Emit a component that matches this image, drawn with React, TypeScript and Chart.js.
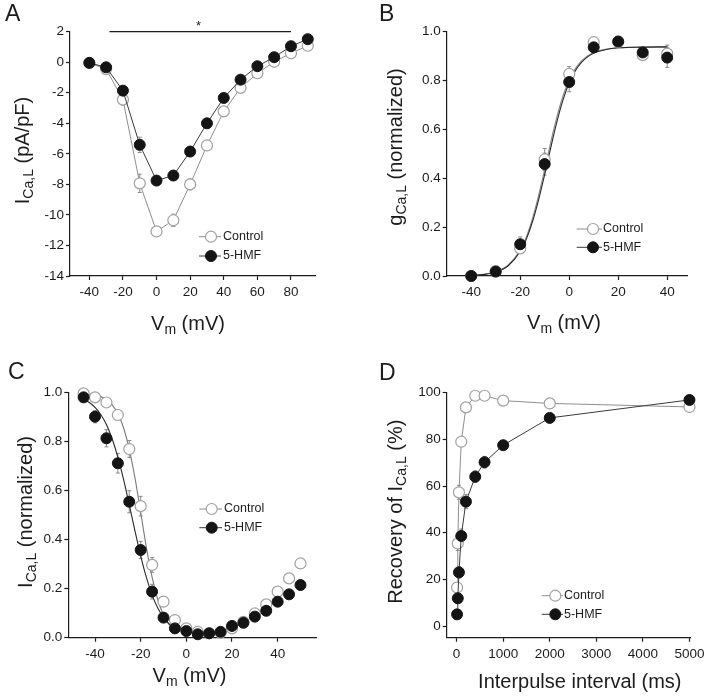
import React, { useEffect, useRef } from 'react';
import { Chart, registerables } from 'chart.js';

Chart.register(...registerables);

const FONT = '"Liberation Sans", Arial, Helvetica, sans-serif';
const INK = '#1c1c1c';
const OPEN_STROKE = '#a0a0a0';
const OPEN_LINE = '#8e8e8e';
const FILLED = '#141414';
const FILLED_LINE = '#3a3a3a';
const ERR = '#8a8a8a';

// ---------------- Panel A : I-V relationship ----------------
const vmA = [-40, -30, -20, -10, 0, 10, 20, 30, 40, 50, 60, 70, 80, 90];
const controlA = [-0.05, -0.45, -2.45, -7.93, -11.08, -10.35, -8.0, -5.45, -3.22, -1.68, -0.72, 0.03, 0.59, 1.08];
const hmfA = [-0.04, -0.33, -1.86, -5.41, -7.75, -7.42, -5.85, -4.0, -2.34, -1.14, -0.26, 0.33, 1.05, 1.51];
const controlErrA = [0.1, 0.2, 0.35, 0.6, 0.3, 0.4, 0.35, 0.3, 0.25, 0.2, 0.15, 0.1, 0.1, 0.1];
const hmfErrA = [0.1, 0.15, 0.3, 0.5, 0.3, 0.3, 0.3, 0.25, 0.2, 0.15, 0.1, 0.1, 0.1, 0.1];
const sigBarXA = [-28, 80];
const sigBarYA = 2;
const sigStarXA = 25;
const xTicksA = [-40, -20, 0, 20, 40, 60, 80];
const yTicksA = [2, 0, -2, -4, -6, -8, -10, -12, -14];

// ---------------- Panel B : activation ----------------
const vmB = [-40, -30, -20, -10, 0, 10, 20, 30, 40];
const controlB = [0.0, 0.02, 0.113, 0.477, 0.827, 0.957, 0.958, 0.904, 0.91];
const hmfB = [0.0, 0.018, 0.13, 0.458, 0.794, 0.936, 0.96, 0.915, 0.894];
const controlErrB = [0, 0.005, 0.02, 0.045, 0.03, 0.02, 0.01, 0.02, 0.035];
const hmfErrB = [0, 0.005, 0.03, 0.045, 0.04, 0.02, 0.01, 0.02, 0.04];
const fitVmB = [-40, -35, -30, -25, -20, -17.5, -15, -12.5, -10, -7.5, -5, -2.5, 0, 2.5, 5, 7.5, 10, 15, 20, 30, 40];
const fitControlB = [0.003, 0.007, 0.017, 0.044, 0.106, 0.16, 0.235, 0.329, 0.437, 0.549, 0.652, 0.738, 0.803, 0.849, 0.881, 0.901, 0.915, 0.928, 0.934, 0.937, 0.937];
const fitHmfB = [0.002, 0.006, 0.016, 0.041, 0.1, 0.151, 0.222, 0.312, 0.416, 0.527, 0.632, 0.722, 0.791, 0.84, 0.874, 0.897, 0.912, 0.927, 0.934, 0.937, 0.938];
const xTicksB = [-40, -20, 0, 20, 40];
const yTicksB = [0, 0.2, 0.4, 0.6, 0.8, 1.0];

// ---------------- Panel C : inactivation ----------------
const vmC = [-45, -40, -35, -30, -25, -20, -15, -10, -5, 0, 5, 10, 15, 20, 25, 30, 35, 40, 45, 50];
const controlC = [0.997, 0.981, 0.96, 0.909, 0.77, 0.537, 0.297, 0.147, 0.072, 0.038, 0.024, 0.018, 0.02, 0.038, 0.065, 0.099, 0.136, 0.188, 0.242, 0.303];
const hmfC = [0.981, 0.902, 0.814, 0.712, 0.555, 0.358, 0.188, 0.082, 0.038, 0.027, 0.014, 0.018, 0.024, 0.048, 0.061, 0.086, 0.11, 0.147, 0.177, 0.215];
const controlErrC = [0.005, 0.01, 0.015, 0.02, 0.035, 0.04, 0.03, 0.015, 0.01, 0.005, 0.005, 0.005, 0.005, 0.005, 0.005, 0.005, 0.005, 0.005, 0.005, 0.005];
const hmfErrC = [0.01, 0.025, 0.035, 0.04, 0.045, 0.035, 0.03, 0.015, 0.01, 0.005, 0.005, 0.005, 0.005, 0.005, 0.005, 0.005, 0.005, 0.005, 0.005, 0.005];
const fitVmC = [-45, -42.5, -40, -37.5, -35, -32.5, -30, -27.5, -25, -22.5, -20, -17.5, -15, -12.5, -10, -8, -6];
const fitControlC = [0.997, 0.995, 0.991, 0.984, 0.972, 0.95, 0.915, 0.857, 0.77, 0.652, 0.512, 0.369, 0.247, 0.155, 0.093, 0.061, 0.039];
const fitHmfC = [0.974, 0.96, 0.94, 0.911, 0.87, 0.812, 0.737, 0.646, 0.543, 0.436, 0.334, 0.246, 0.175, 0.121, 0.082, 0.06, 0.043];
const xTicksC = [-40, -20, 0, 20, 40];
const yTicksC = [0, 0.2, 0.4, 0.6, 0.8, 1.0];

// ---------------- Panel D : recovery ----------------
const intervalD = [10, 25, 50, 100, 200, 400, 600, 1000, 2000, 5000];
const controlD = [16.5, 35.4, 57.3, 79.0, 93.7, 98.7, 98.7, 96.6, 95.4, 93.9];
const hmfD = [5.0, 11.9, 23.0, 38.6, 53.3, 64.0, 70.2, 77.5, 89.2, 96.9];
const controlErrD = [2, 3, 3, 2, 1, 0.8, 0.8, 0.8, 1, 1];
const hmfErrD = [1, 1.5, 2.5, 3, 3, 2.5, 2.5, 1.5, 1, 1];
const xTicksD = [0, 1000, 2000, 3000, 4000, 5000];
const yTicksD = [0, 20, 40, 60, 80, 100];

const legendLabels = ['Control', '5-HMF'];

type Part = { t: string; sub?: boolean };

const pts = (xs: number[], ys: number[]) => xs.map((x, i) => ({ x, y: ys[i] }));

function openSeries(xs: number[], ys: number[], errs: number[], showLine: boolean) {
  return {
    label: legendLabels[0],
    data: pts(xs, ys),
    showLine,
    borderColor: OPEN_LINE,
    borderWidth: 1,
    pointRadius: 5.5,
    pointHoverRadius: 5.5,
    pointBackgroundColor: '#ffffff',
    pointBorderColor: OPEN_STROKE,
    pointBorderWidth: 1.2,
    clip: false,
    errorBars: errs,
    order: 2,
  };
}

function filledSeries(xs: number[], ys: number[], errs: number[], showLine: boolean) {
  return {
    label: legendLabels[1],
    data: pts(xs, ys),
    showLine,
    borderColor: FILLED_LINE,
    borderWidth: 1,
    pointRadius: 5.5,
    pointHoverRadius: 5.5,
    pointBackgroundColor: FILLED,
    pointBorderColor: FILLED,
    pointBorderWidth: 1,
    clip: false,
    errorBars: errs,
    order: 1,
  };
}

function fitSeries(xs: number[], ys: number[], color: string, order: number) {
  return {
    data: pts(xs, ys),
    showLine: true,
    borderColor: color,
    borderWidth: 1.1,
    pointRadius: 0,
    pointHoverRadius: 0,
    cubicInterpolationMode: 'monotone',
    clip: false,
    order,
  };
}

function axis(min: number, max: number, ticks: number[], fmt: (v: number) => string, fitSize: number, isX: boolean) {
  return {
    type: 'linear',
    min,
    max,
    afterBuildTicks: (s: any) => {
      s.ticks = ticks.map((v) => ({ value: v }));
    },
    afterFit: (s: any) => {
      if (isX) s.height = fitSize;
      else s.width = fitSize;
    },
    ticks: {
      font: { family: FONT, size: 13.5 },
      color: INK,
      padding: isX ? 4.5 : 2,
      autoSkip: false,
      maxRotation: 0,
      callback: (v: any) => fmt(Number(v)),
    },
    grid: {
      display: true,
      drawOnChartArea: false,
      drawTicks: true,
      tickLength: 4,
      tickColor: INK,
      tickWidth: 1.2,
      color: INK,
    },
    border: { display: true, color: INK, width: 1.2 },
    title: { display: false },
  };
}

const errorBarPlugin = {
  id: 'errorBars',
  beforeDatasetsDraw(chart: any) {
    const ctx = chart.ctx;
    const ys = chart.scales.y;
    chart.data.datasets.forEach((ds: any, i: number) => {
      if (!ds.errorBars) return;
      const meta = chart.getDatasetMeta(i);
      ctx.save();
      ctx.strokeStyle = ERR;
      ctx.lineWidth = 1;
      meta.data.forEach((pt: any, j: number) => {
        const e = ds.errorBars[j];
        if (!e) return;
        const v = ds.data[j].y;
        const x = pt.x;
        const y1 = ys.getPixelForValue(v + e);
        const y2 = ys.getPixelForValue(v - e);
        ctx.beginPath();
        ctx.moveTo(x, y1);
        ctx.lineTo(x, y2);
        ctx.moveTo(x - 2, y1);
        ctx.lineTo(x + 2, y1);
        ctx.moveTo(x - 2, y2);
        ctx.lineTo(x + 2, y2);
        ctx.stroke();
      });
      ctx.restore();
    });
  },
};

function drawRich(ctx: CanvasRenderingContext2D, parts: Part[], cx: number, y: number, size: number) {
  const sub = Math.round(size * 0.68);
  const fontFor = (p: Part) => `${p.sub ? sub : size}px ${FONT}`;
  let w = 0;
  for (const p of parts) {
    ctx.font = fontFor(p);
    w += ctx.measureText(p.t).width;
  }
  let x = cx - w / 2;
  ctx.textAlign = 'left';
  ctx.textBaseline = 'alphabetic';
  for (const p of parts) {
    ctx.font = fontFor(p);
    ctx.fillText(p.t, x, y + (p.sub ? 4 : 0));
    x += ctx.measureText(p.t).width;
  }
}

type PanelText = {
  letter: string;
  letterX: number;
  letterY: number;
  xTitle: Part[];
  xTitleCx: number;
  xTitleY: number;
  yTitle: Part[];
  yTitleX: number;
  yTitleCy: number;
  legend: { l1: number; l2: number; cx: number; tx: number; y: number[] };
  star?: { xValue: number; y: number };
};

function textPlugin(cfg: PanelText) {
  return {
    id: 'panelText',
    afterDraw(chart: any) {
      const ctx: CanvasRenderingContext2D = chart.ctx;
      ctx.save();
      ctx.fillStyle = INK;
      ctx.font = `23px ${FONT}`;
      ctx.textAlign = 'left';
      ctx.textBaseline = 'alphabetic';
      ctx.fillText(cfg.letter, cfg.letterX, cfg.letterY);

      drawRich(ctx, cfg.xTitle, cfg.xTitleCx, cfg.xTitleY, 20);

      ctx.save();
      ctx.translate(cfg.yTitleX, cfg.yTitleCy);
      ctx.rotate(-Math.PI / 2);
      drawRich(ctx, cfg.yTitle, 0, 0, 20);
      ctx.restore();

      // legend
      const lg = cfg.legend;
      legendLabels.forEach((label, i) => {
        const y = lg.y[i];
        const open = i === 0;
        ctx.beginPath();
        ctx.strokeStyle = open ? OPEN_LINE : FILLED_LINE;
        ctx.lineWidth = 1;
        ctx.moveTo(lg.l1, y);
        ctx.lineTo(lg.l2, y);
        ctx.stroke();
        ctx.beginPath();
        ctx.arc(lg.cx, y, 5.5, 0, Math.PI * 2);
        ctx.fillStyle = open ? '#ffffff' : FILLED;
        ctx.fill();
        ctx.lineWidth = open ? 1.2 : 1;
        ctx.strokeStyle = open ? OPEN_STROKE : FILLED;
        ctx.stroke();
        ctx.fillStyle = INK;
        ctx.font = `12.5px ${FONT}`;
        ctx.textAlign = 'left';
        ctx.textBaseline = 'middle';
        ctx.fillText(label, lg.tx, y);
      });

      if (cfg.star) {
        const sx = chart.scales.x.getPixelForValue(cfg.star.xValue);
        ctx.fillStyle = INK;
        ctx.font = `13px ${FONT}`;
        ctx.textAlign = 'center';
        ctx.textBaseline = 'alphabetic';
        ctx.fillText('*', sx, cfg.star.y);
      }
      ctx.restore();
    },
  };
}

const fmtInt = (v: number) => String(Math.round(v));
const fmt1 = (v: number) => v.toFixed(1);

const vmTitle: Part[] = [{ t: 'V' }, { t: 'm', sub: true }, { t: ' (mV)' }];

function buildA(): any {
  return {
    type: 'scatter',
    data: {
      datasets: [
        filledSeries(vmA, hmfA, hmfErrA, true),
        openSeries(vmA, controlA, controlErrA, true),
        {
          data: sigBarXA.map((x) => ({ x, y: sigBarYA })),
          showLine: true,
          borderColor: INK,
          borderWidth: 1.2,
          pointRadius: 0,
          clip: false,
          order: 5,
        },
      ],
    },
    options: {
      responsive: false,
      animation: false,
      layout: { padding: { left: 0, right: 39, top: 31.7, bottom: 0 }, autoPadding: false },
      plugins: { legend: { display: false }, tooltip: { enabled: false } },
      scales: {
        x: axis(-51.5, 94.3, xTicksA, fmtInt, 69, true),
        y: axis(-14, 2, yTicksA, fmtInt, 70, false),
      },
    },
    plugins: [
      errorBarPlugin,
      textPlugin({
        letter: 'A',
        letterX: 5,
        letterY: 21,
        xTitle: vmTitle,
        xTitleCx: 188,
        xTitleY: 330,
        yTitle: [{ t: 'I' }, { t: 'Ca,L', sub: true }, { t: ' (pA/pF)' }],
        yTitleX: 29.3,
        yTitleCy: 150.5,
        legend: { l1: 199, l2: 221, cx: 211, tx: 223, y: [236.7, 256] },
        star: { xValue: sigStarXA, y: 30 },
      }),
    ],
  };
}

function buildB(): any {
  return {
    type: 'scatter',
    data: {
      datasets: [
        filledSeries(vmB, hmfB, hmfErrB, false),
        openSeries(vmB, controlB, controlErrB, false),
        fitSeries(fitVmB, fitControlB, '#8a8a8a', 4),
        fitSeries(fitVmB, fitHmfB, '#2a2a2a', 3),
      ],
    },
    options: {
      responsive: false,
      animation: false,
      layout: { padding: { left: 0, right: 21.7, top: 31.7, bottom: 0 }, autoPadding: false },
      plugins: { legend: { display: false }, tooltip: { enabled: false } },
      scales: {
        x: axis(-50, 48.2, xTicksB, fmtInt, 69, true),
        y: axis(0, 1, yTicksB, fmt1, 92.7, false),
      },
    },
    plugins: [
      errorBarPlugin,
      textPlugin({
        letter: 'B',
        letterX: 25,
        letterY: 21,
        xTitle: vmTitle,
        xTitleCx: 210,
        xTitleY: 328.5,
        yTitle: [{ t: 'g' }, { t: 'Ca,L', sub: true }, { t: ' (normalized)' }],
        yTitleX: 48,
        yTitleCy: 147,
        legend: { l1: 222.7, l2: 248, cx: 239, tx: 249, y: [229, 247.3] },
      }),
    ],
  };
}

function buildC(): any {
  return {
    type: 'scatter',
    data: {
      datasets: [
        filledSeries(vmC, hmfC, hmfErrC, false),
        openSeries(vmC, controlC, controlErrC, false),
        fitSeries(fitVmC, fitControlC, '#7a7a7a', 4),
        fitSeries(fitVmC, fitHmfC, '#2a2a2a', 3),
      ],
    },
    options: {
      responsive: false,
      animation: false,
      layout: { padding: { left: 0, right: 37.3, top: 47.7, bottom: 0 }, autoPadding: false },
      plugins: { legend: { display: false }, tooltip: { enabled: false } },
      scales: {
        x: axis(-51.7, 57.1, xTicksC, fmtInt, 58.3, true),
        y: axis(0, 1, yTicksC, fmt1, 68.3, false),
      },
    },
    plugins: [
      errorBarPlugin,
      textPlugin({
        letter: 'C',
        letterX: 8,
        letterY: 34,
        xTitle: vmTitle,
        xTitleCx: 189.5,
        xTitleY: 336.7,
        yTitle: [{ t: 'I' }, { t: 'Ca,L', sub: true }, { t: ' (normalized)' }],
        yTitleX: 32,
        yTitleCy: 167,
        legend: { l1: 199.3, l2: 222, cx: 211.7, tx: 224, y: [164, 182.7] },
      }),
    ],
  };
}

function buildD(): any {
  return {
    type: 'scatter',
    data: {
      datasets: [
        filledSeries(intervalD, hmfD, hmfErrD, true),
        openSeries(intervalD, controlD, controlErrD, true),
      ],
    },
    options: {
      responsive: false,
      animation: false,
      layout: { padding: { left: 0, right: 16.7, top: 47.7, bottom: 0 }, autoPadding: false },
      plugins: { legend: { display: false }, tooltip: { enabled: false } },
      scales: {
        x: axis(-213, 5013, xTicksD, fmtInt, 58.3, true),
        y: axis(-5, 100, yTicksD, fmtInt, 92.7, false),
      },
    },
    plugins: [
      errorBarPlugin,
      textPlugin({
        letter: 'D',
        letterX: 25,
        letterY: 35,
        xTitle: [{ t: 'Interpulse interval (ms)' }],
        xTitleCx: 225.8,
        xTitleY: 343,
        yTitle: [{ t: 'Recovery of I' }, { t: 'Ca,L', sub: true }, { t: ' (%)' }],
        yTitleX: 48.3,
        yTitleCy: 166.7,
        legend: { l1: 187.7, l2: 209, cx: 201.3, tx: 210, y: [250.7, 269.3] },
      }),
    ],
  };
}

function Panel(props: { left: number; top: number; width: number; height: number; build: () => any }) {
  const ref = useRef<HTMLCanvasElement>(null);
  useEffect(() => {
    if (!ref.current) return;
    const chart = new Chart(ref.current, props.build());
    return () => chart.destroy();
  }, []);
  return (
    <div style={{ position: 'absolute', left: props.left, top: props.top, width: props.width, height: props.height }}>
      <canvas
        ref={ref}
        width={props.width}
        height={props.height}
        style={{ display: 'block', width: props.width, height: props.height }}
      />
    </div>
  );
}

export default function App() {
  return (
    <div style={{ position: 'absolute', left: 0, top: 0, width: 709, height: 696, background: '#ffffff', overflow: 'hidden' }}>
      <Panel left={0} top={0} width={354} height={345} build={buildA} />
      <Panel left={354} top={0} width={355} height={345} build={buildB} />
      <Panel left={0} top={345} width={354} height={351} build={buildC} />
      <Panel left={354} top={345} width={355} height={351} build={buildD} />
    </div>
  );
}
